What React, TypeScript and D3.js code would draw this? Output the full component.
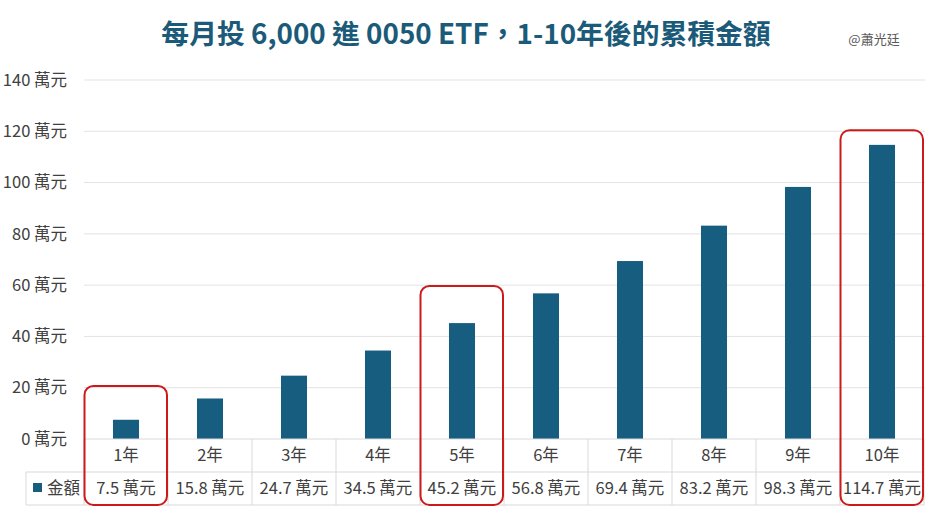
import React from "react";
import * as d3 from "d3";

const categories = ["1年", "2年", "3年", "4年", "5年", "6年", "7年", "8年", "9年", "10年"];
const values = [7.5, 15.8, 24.7, 34.5, 45.2, 56.8, 69.4, 83.2, 98.3, 114.7];
const valueLabels = ["7.5 萬元", "15.8 萬元", "24.7 萬元", "34.5 萬元", "45.2 萬元", "56.8 萬元", "69.4 萬元", "83.2 萬元", "98.3 萬元", "114.7 萬元"];
const yTicks = [0, 20, 40, 60, 80, 100, 120, 140];
const seriesName = "金額";
const highlightCats = ["1年", "5年", "10年"];
const highlightTops = [20.7, 59.7, 120.4];
const title = "每月投 6,000 進 0050 ETF，1-10年後的累積金額";
const credit = "@蕭光廷";

const W = 925;
const H = 515;
const FONT = "'Noto Sans CJK TC', 'Noto Sans', sans-serif";
const BAR = "#175d80";
const TEXT = "#404040";
const GRID = "#e3e3e3";
const TABLE = "#d9d9d9";
const FS = 16.5;

export default function App() {
  const left = 84;
  const right = 924;
  const top = 80;
  const bottom = 439;
  const row1 = 472;
  const row2 = 505;
  const legendLeft = 26;

  const x = d3.scaleBand<string>().domain(categories).range([left, right]).paddingInner(0).paddingOuter(0);
  const y = d3.scaleLinear().domain([0, 140]).range([bottom, top]);
  const bw = x.bandwidth();
  const barW = bw * 0.31;

  return (
    <svg width={W} height={H} style={{ position: "absolute", left: 0, top: 0, background: "#fff" }} fontFamily={FONT}>
      <rect x={0} y={0} width={W} height={H} fill="#fff" />
      <text x={466} y={44} textAnchor="middle" fontSize={27.8} fontWeight="bold" fill="#1b5a78">{title}</text>
      <text x={874} y={44} textAnchor="middle" fontSize={13} fill="#595959">{credit}</text>

      {yTicks.map((t) => (
        <g key={t}>
          {t > 0 && <line x1={left} x2={W} y1={y(t)} y2={y(t)} stroke={GRID} strokeWidth={1} />}
          <text x={67} y={y(t)} dy="0.35em" textAnchor="end" fontSize={FS} fill={TEXT}>{`${t} 萬元`}</text>
        </g>
      ))}

      {categories.map((c, i) => (
        <rect key={c} x={(x(c) as number) + (bw - barW) / 2} y={y(values[i])} width={barW} height={bottom - y(values[i])} fill={BAR} />
      ))}

      {/* data table */}
      <line x1={left} x2={right} y1={bottom} y2={bottom} stroke={TABLE} />
      <line x1={legendLeft} x2={right} y1={row1} y2={row1} stroke={TABLE} />
      <line x1={legendLeft} x2={right} y1={row2} y2={row2} stroke={TABLE} />
      <line x1={legendLeft} x2={legendLeft} y1={row1} y2={row2} stroke={TABLE} />
      {categories.map((c) => (
        <line key={"v" + c} x1={x(c) as number} x2={x(c) as number} y1={bottom} y2={row2} stroke={TABLE} />
      ))}
      <line x1={right} x2={right} y1={bottom} y2={row2} stroke={TABLE} />
      {categories.map((c, i) => (
        <g key={"t" + c}>
          <text x={(x(c) as number) + bw / 2} y={(bottom + row1) / 2} dy="0.35em" textAnchor="middle" fontSize={FS} fill={TEXT}>{c}</text>
          <text x={(x(c) as number) + bw / 2} y={(row1 + row2) / 2} dy="0.35em" textAnchor="middle" fontSize={FS} fill={TEXT}>{valueLabels[i]}</text>
        </g>
      ))}
      <rect x={33} y={483} width={9} height={9} fill={BAR} />
      <text x={47} y={(row1 + row2) / 2} dy="0.35em" fontSize={FS} fill={TEXT}>{seriesName}</text>

      {highlightCats.map((c, i) => (
        <rect key={"h" + c} x={(x(c) as number) + 0.5} y={y(highlightTops[i])} width={bw - 1.5} height={row2 - y(highlightTops[i])} rx={9} ry={9} fill="none" stroke="#cc1a1a" strokeWidth={2} />
      ))}
    </svg>
  );
}
